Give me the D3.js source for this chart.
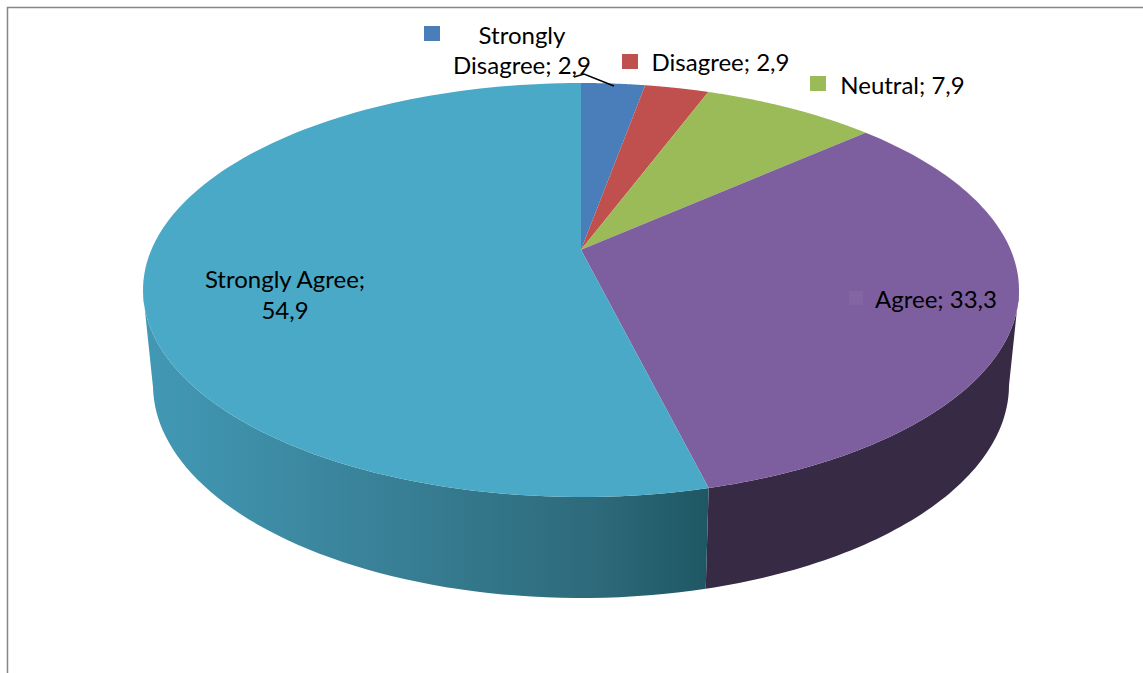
<!DOCTYPE html>
<html lang="en">
<head>
<meta charset="utf-8">
<title>Pie</title>
<script src="https://d3js.org/d3.v7.min.js"></script>
<style>
html, body { margin: 0; padding: 0; background: #fff; }
svg { display: block; }
text { font-family: Lato, sans-serif; font-size: 24px; fill: #000; }
</style>
</head>
<body>
<div id="chart"></div>
<script>
var categories = ["Strongly Disagree", "Disagree", "Neutral", "Agree", "Strongly Agree"];
var values = [2.9, 2.9, 7.9, 33.3, 54.9];
var colors = ["#4a7ebb", "#c0504d", "#9bbb59", "#7d5f9f", "#4aa9c6"];

var width = 1143, height = 673;

var svg = d3.select("#chart").append("svg")
	.attr("width", width)
	.attr("height", height);

//top face and bottom rim of the disc, both from the unit circle
var xTop = d3.scaleLinear().domain([-1, 1]).range([143, 1019]);
var yTop = d3.scaleLinear().domain([-1, 1]).range([83, 497]);
var xBottom = d3.scaleLinear().domain([-1, 1]).range([153, 1009]);
var yBottom = d3.scaleLinear().domain([-1, 1]).range([172, 598]);

//perspective: pushes the pie centre up from the middle of the ellipse
var tilt = -0.194;
function project(angle) {
	var u = Math.sin(angle), v = -Math.cos(angle);
	var d = 1 + tilt * v;
	return [u * Math.sqrt(1 - tilt * tilt) / d, (v + tilt) / d];
}

var pie = d3.pie().sort(null).value(function(d) { return d; });
var arcs = pie(values);

var line = d3.line();

function rimPoints(a0, a1) {
	return d3.range(0, 121).map(function(i) {
		return project(a0 + (a1 - a0) * i / 120);
	});
}

//side wall shading
var defs = svg.append("defs");
var wallGrad = defs.append("linearGradient")
	.attr("id", "wallCyan")
	.attr("gradientUnits", "userSpaceOnUse")
	.attr("x1", 143).attr("x2", 706).attr("y1", 0).attr("y2", 0);
wallGrad.append("stop").attr("offset", "0").attr("stop-color", "#4299b5");
wallGrad.append("stop").attr("offset", "0.45").attr("stop-color", "#387f95");
wallGrad.append("stop").attr("offset", "0.8").attr("stop-color", "#2d6a7b");
wallGrad.append("stop").attr("offset", "1").attr("stop-color", "#1f5864");

//walls first, only the front half of the rim is visible
var wallFill = { 3: "#372a44", 4: "url(#wallCyan)" };
arcs.forEach(function(d, i) {
	if (!wallFill[i]) return;
	var pts = rimPoints(d.startAngle, d.endAngle).filter(function(p) { return p[1] >= 0; });
	var top = pts.map(function(p) { return [xTop(p[0]), yTop(p[1])]; });
	var bottom = pts.map(function(p) { return [xBottom(p[0]), yBottom(p[1])]; }).reverse();
	svg.append("path")
		.attr("d", line(top.concat(bottom)) + "Z")
		.attr("fill", wallFill[i]);
});

//slices of the top face
svg.selectAll("path.slice")
	.data(arcs).enter()
	.append("path")
	.attr("class", "slice")
	.attr("fill", function(d, i) { return colors[i]; })
	.attr("d", function(d) {
		var pts = rimPoints(d.startAngle, d.endAngle).map(function(p) { return [xTop(p[0]), yTop(p[1])]; });
		return line([[xTop(0), yTop(tilt)]].concat(pts)) + "Z";
	});

//chart frame
svg.append("path")
	.attr("d", "M7.5,673V7.5H1143")
	.attr("fill", "none")
	.attr("stroke", "#868686")
	.attr("stroke-width", 1.5);

//legend keys
var keys = [[424, 26], [622, 54], [810, 76]];
svg.selectAll("rect.key")
	.data(keys).enter()
	.append("rect")
	.attr("class", "key")
	.attr("x", function(d) { return d[0]; })
	.attr("y", function(d) { return d[1]; })
	.attr("width", 16)
	.attr("height", 15)
	.attr("fill", function(d, i) { return colors[i]; });

svg.append("rect")
	.attr("x", 849).attr("y", 291)
	.attr("width", 14).attr("height", 14)
	.attr("fill", "#8365a3");

//leader line
svg.append("path")
	.attr("d", "M574,77L584,74L614,86")
	.attr("fill", "none")
	.attr("stroke", "#000")
	.attr("stroke-width", 1.5);

//labels
function fmt(v) { return String(v).replace(".", ","); }
var labels = [
	{ lines: ["Strongly", categories[1] + "; " + fmt(values[0])], x: 522, y: [44, 74] },
	{ lines: [categories[1] + "; " + fmt(values[1])], x: 720.5, y: [71] },
	{ lines: [categories[2] + "; " + fmt(values[2])], x: 902.5, y: [94] },
	{ lines: [categories[3] + "; " + fmt(values[3])], x: 936, y: [308] },
	{ lines: [categories[4] + ";", fmt(values[4])], x: 285, y: [288, 319] }
];
labels.forEach(function(l) {
	l.lines.forEach(function(t, i) {
		svg.append("text")
			.attr("x", l.x)
			.attr("y", l.y[i])
			.attr("text-anchor", "middle")
			.text(t);
	});
});
</script>
</body>
</html>
